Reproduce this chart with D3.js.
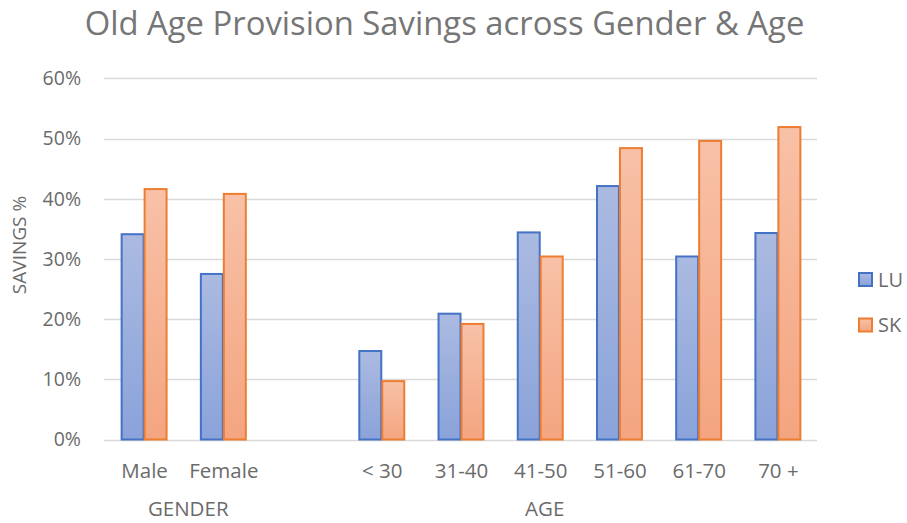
<!DOCTYPE html>
<html lang='en'>
<head>
  <meta charset='UTF-8'>
  <title>Old Age Provision Savings across Gender & Age</title>
  <style>
  body {
    margin: 0;
    background: white;
  }
  text {
    font-family: 'Open Sans', sans-serif;
    fill: #6b6b6b;
  }
  .title {
    font-size: 32.8px;
    fill: #767676;
  }
  .tick-label {
    font-size: 19.5px;
  }
  .cat-label, .group-label {
    font-size: 20.5px;
  }
  .legend-label {
    font-size: 20px;
  }
  .axis-title {
    font-size: 19px;
  }
  .grid line {
    stroke: #d9d9d9;
    stroke-width: 1.3px;
  }
  </style>
  <script src="https://d3js.org/d3.v7.min.js"></script>
</head>
<body>
  <script>

  // data
  var categories = ['Male', 'Female', '', '< 30', '31-40', '41-50', '51-60', '61-70', '70 +'];
  var series = ['LU', 'SK'];
  var luValues = [0.341, 0.275, null, 0.147, 0.209, 0.344, 0.421, 0.304, 0.343];
  var skValues = [0.416, 0.408, null, 0.097, 0.192, 0.304, 0.484, 0.496, 0.519];
  var groups = [
    { name: 'GENDER', members: ['Male', 'Female'] },
    { name: 'AGE', members: ['', '< 30', '31-40', '41-50', '51-60', '61-70', '70 +'] }
  ];
  var yTicks = [0, 0.1, 0.2, 0.3, 0.4, 0.5, 0.6];

  var svgWidth = 907;
  var svgHeight = 523;
  var margin = { top: 78, right: 90, bottom: 83, left: 104 };

  var strokeColors = { LU: '#4472c4', SK: '#ed7d31' };
  var gradStops = {
    LU: ['#abbae1', '#8aa3da'],
    SK: ['#f8c1a7', '#f4a580']
  };

  var svg = d3.select('body').append('svg')
    .attr('width', svgWidth)
    .attr('height', svgHeight);

  var defs = svg.append('defs');
  series.forEach(function (s) {
    var lg = defs.append('linearGradient')
      .attr('id', 'grad-' + s)
      .attr('x1', 0).attr('y1', 0).attr('x2', 0).attr('y2', 1);
    lg.append('stop').attr('offset', '0%').attr('stop-color', gradStops[s][0]);
    lg.append('stop').attr('offset', '100%').attr('stop-color', gradStops[s][1]);
  });

  var x = d3.scaleBand()
    .domain(categories)
    .range([margin.left, 817])
    .paddingInner(0.42)
    .paddingOuter(0.21);

  var x1 = d3.scaleBand()
    .domain(series)
    .range([0, x.bandwidth()]);

  var y = d3.scaleLinear()
    .domain([0, 0.6])
    .range([439.5, 78.3]);

  var pct = d3.format('.0%');

  // gridlines
  svg.append('g')
    .attr('class', 'grid')
    .selectAll('line')
    .data(yTicks)
    .enter()
    .append('line')
    .attr('x1', x.range()[0])
    .attr('x2', x.range()[1])
    .attr('y1', function (d) { return Math.round(y(d)) + 0.5; })
    .attr('y2', function (d) { return Math.round(y(d)) + 0.5; });

  // y tick labels
  svg.append('g')
    .selectAll('text')
    .data(yTicks)
    .enter()
    .append('text')
    .attr('class', 'tick-label')
    .attr('x', x.range()[0] - 23)
    .attr('y', function (d) { return y(d); })
    .attr('dy', '0.35em')
    .attr('text-anchor', 'end')
    .text(pct);

  // bars
  var rows = categories.map(function (c, i) {
    return { cat: c, values: [ { s: 'LU', v: luValues[i] }, { s: 'SK', v: skValues[i] } ] };
  });

  var cat = svg.append('g')
    .selectAll('g')
    .data(rows)
    .enter()
    .append('g')
    .attr('transform', function (d) { return 'translate(' + x(d.cat) + ',0)'; });

  cat.selectAll('rect')
    .data(function (d) { return d.values.filter(function (e) { return e.v != null; }); })
    .enter()
    .append('rect')
    .attr('x', function (d) { return x1(d.s) + 1; })
    .attr('y', function (d) { return y(d.v); })
    .attr('width', x1.bandwidth() - 1)
    .attr('height', function (d) { return y(0) - y(d.v); })
    .attr('fill', function (d) { return 'url(#grad-' + d.s + ')'; })
    .attr('stroke', function (d) { return strokeColors[d.s]; })
    .attr('stroke-width', 2);

  // category labels
  svg.append('g')
    .selectAll('text')
    .data(categories.filter(function (c) { return c !== ''; }))
    .enter()
    .append('text')
    .attr('class', 'cat-label')
    .attr('x', function (d) { return x(d) + x.bandwidth() / 2 + 1; })
    .attr('y', 478)
    .attr('text-anchor', 'middle')
    .text(function (d) { return d; });

  // group labels
  svg.append('g')
    .selectAll('text')
    .data(groups)
    .enter()
    .append('text')
    .attr('class', 'group-label')
    .attr('x', function (d) {
      var first = d.members[0];
      var last = d.members[d.members.length - 1];
      return (x(first) - x.step() * x.paddingInner() / 2 + x(last) + x.bandwidth() + x.step() * x.paddingInner() / 2) / 2 + 5;
    })
    .attr('y', 516)
    .attr('text-anchor', 'middle')
    .text(function (d) { return d.name; });

  // axis title
  svg.append('text')
    .attr('class', 'axis-title')
    .attr('transform', 'translate(26,245) rotate(-90)')
    .attr('text-anchor', 'middle')
    .text('SAVINGS %');

  // title
  svg.append('text')
    .attr('class', 'title')
    .attr('x', 444.5)
    .attr('y', 35)
    .attr('text-anchor', 'middle')
    .text('Old Age Provision Savings across Gender & Age');

  // legend
  var legend = svg.append('g')
    .selectAll('g')
    .data(series)
    .enter()
    .append('g')
    .attr('transform', function (d, i) { return 'translate(859,' + (273 + i * 45.5) + ')'; });

  legend.append('rect')
    .attr('width', 13)
    .attr('height', 13)
    .attr('fill', function (d) { return 'url(#grad-' + d + ')'; })
    .attr('stroke', function (d) { return strokeColors[d]; })
    .attr('stroke-width', 2);

  legend.append('text')
    .attr('class', 'legend-label')
    .attr('x', 19)
    .attr('y', 6.5)
    .attr('dy', '0.35em')
    .text(function (d) { return d; });
  </script>
</body>
</html>
